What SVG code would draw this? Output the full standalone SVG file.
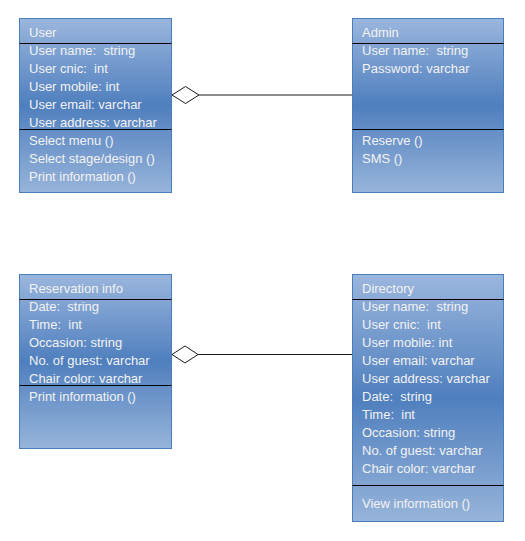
<svg xmlns="http://www.w3.org/2000/svg" width="525" height="541" viewBox="0 0 525 541" xml:space="preserve">
<defs>
<linearGradient id="g" x1="0" y1="0" x2="0" y2="1">
<stop offset="0" stop-color="#9ab6dd"/>
<stop offset="0.5" stop-color="#4f7fbe"/>
<stop offset="1" stop-color="#97b4da"/>
</linearGradient>
</defs>
<style>
.box{fill:url(#g);stroke:#4a7ebb;stroke-width:1}
.sep{stroke:#000;stroke-width:1}
text{font-family:"Liberation Sans",Arial,sans-serif;font-size:13px;fill:#f2f2f2;white-space:pre}
.conn{stroke:#1a1a1a;stroke-width:1;fill:none}
.dia{fill:#fff;stroke:#1a1a1a;stroke-width:1}
</style>
<rect width="525" height="541" fill="#fff"/>
<g id="connectors">
<line class="conn" x1="199" y1="95" x2="352" y2="95"/>
<polygon class="dia" points="172,95 185.5,86.5 199,95 185.5,103.5"/>
<line class="conn" x1="198" y1="354.5" x2="352" y2="354.5"/>
<polygon class="dia" points="172,354.5 185,346 198,354.5 185,363"/>
</g>
<g id="user">
<rect class="box" x="19.5" y="18.5" width="152" height="174"/>
<line class="sep" x1="19.5" y1="43.5" x2="171.5" y2="43.5"/>
<line class="sep" x1="19.5" y1="129.5" x2="171.5" y2="129.5"/>
<text x="29" y="37">User</text>
<text x="29" y="55">User name:  string</text>
<text x="29" y="73">User cnic:  int</text>
<text x="29" y="91">User mobile: int</text>
<text x="29" y="109">User email: varchar</text>
<text x="29" y="127">User address: varchar</text>
<text x="29" y="145">Select menu ()</text>
<text x="29" y="163">Select stage/design ()</text>
<text x="29" y="181">Print information ()</text>
</g>
<g id="admin">
<rect class="box" x="352.5" y="18.5" width="151" height="174"/>
<line class="sep" x1="352.5" y1="43.5" x2="503.5" y2="43.5"/>
<line class="sep" x1="352.5" y1="129.5" x2="503.5" y2="129.5"/>
<text x="362" y="37">Admin</text>
<text x="362" y="55">User name:  string</text>
<text x="362" y="73">Password: varchar</text>
<text x="362" y="145">Reserve ()</text>
<text x="362" y="163">SMS ()</text>
</g>
<g id="reservation">
<rect class="box" x="19.5" y="274.5" width="152" height="174"/>
<line class="sep" x1="19.5" y1="299.5" x2="171.5" y2="299.5"/>
<line class="sep" x1="19.5" y1="385.5" x2="171.5" y2="385.5"/>
<text x="29" y="293">Reservation info</text>
<text x="29" y="311">Date:  string</text>
<text x="29" y="329">Time:  int</text>
<text x="29" y="347">Occasion: string</text>
<text x="29" y="365">No. of guest: varchar</text>
<text x="29" y="383">Chair color: varchar</text>
<text x="29" y="401">Print information ()</text>
</g>
<g id="directory">
<rect class="box" x="352.5" y="274.5" width="151" height="247"/>
<line class="sep" x1="352.5" y1="299.5" x2="503.5" y2="299.5"/>
<line class="sep" x1="352.5" y1="485.5" x2="503.5" y2="485.5"/>
<text x="362" y="293">Directory</text>
<text x="362" y="311">User name:  string</text>
<text x="362" y="329">User cnic:  int</text>
<text x="362" y="347">User mobile: int</text>
<text x="362" y="365">User email: varchar</text>
<text x="362" y="383">User address: varchar</text>
<text x="362" y="401">Date:  string</text>
<text x="362" y="419">Time:  int</text>
<text x="362" y="437">Occasion: string</text>
<text x="362" y="455">No. of guest: varchar</text>
<text x="362" y="473">Chair color: varchar</text>
<text x="362" y="508">View information ()</text>
</g>
</svg>
